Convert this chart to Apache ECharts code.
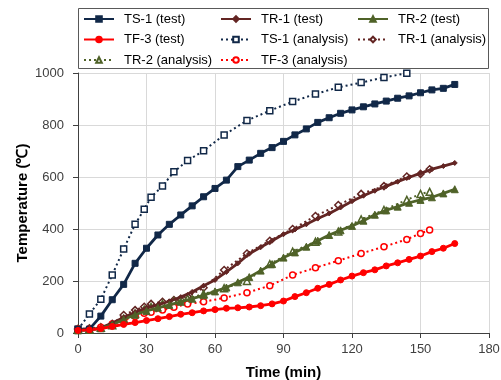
<!DOCTYPE html>
<html>
<head>
<meta charset="utf-8">
<script src="https://cdn.jsdelivr.net/npm/echarts@6/dist/echarts.min.js"></script>
<style>
  html, body { margin: 0; padding: 0; background: #fff; }
  #chart { width: 501px; height: 380px; }
</style>
</head>
<body>
<div id="chart"></div>
<script>
// test readings every 5 min
const testTime = [0,5,10,15,20,25,30,35,40,45,50,55,60,65,70,75,80,85,90,95,100,105,110,115,120,125,130,135,140,145,150,155,160,165]
const ts1Test = [15,15,65,128,187,268,326,377,418,454,489,524,556,588,640,665,691,713,737,762,785,810,828,845,858,870,881,892,903,912,924,935,941,956]
const tr1Test = [10,12,20,38,60,80,97,108,122,138,158,182,204,235,268,305,330,355,380,398,418,440,460,483,507,528,547,565,582,599,614,630,642,654]
const tr2Test = [10,12,18,32,52,70,85,97,108,120,132,145,160,175,195,215,240,265,290,310,332,355,377,395,412,432,455,472,486,501,512,522,537,553]
const tf3Test = [10,12,17,25,33,40,48,55,63,72,78,85,90,95,97,100,105,112,123,140,155,172,187,204,219,232,243,258,270,283,296,313,326,344]

// analysis output steps (irregular)
const anaTime = [0,5,10,15,20,25,29,32,37,42,48,55,64,74,84,94,104,114,124,134,144,150,154]
const ts1Ana = [14,73,130,223,323,418,476,522,565,620,663,701,762,817,855,890,919,945,963,983,999]
const tr1Ana = [15,18,22,35,69,88,101,112,120,127,140,174,242,306,355,400,450,492,535,565,602,612,630]
const tr2Ana = [15,15,20,30,55,75,90,100,112,122,132,150,172,200,265,313,351,390,437,473,512,535,543]
const tf3Ana = [15,15,22,35,50,63,76,80,88,99,112,120,135,155,182,223,251,278,306,332,360,383,396]

const xTicks = { min: 0, max: 180, interval: 30 }
const yTicks = { min: 0, max: 1000, interval: 200 }

const NAVY = '#112848'
const MAROON = '#632523'
const OLIVE = '#4f6228'
const RED = '#ff0000'
const FONT = 'Liberation Sans, Arial, sans-serif'

const pairs = (times, vals) => vals.map((v, i) => [times[i], v])

const testLine = (name, color, symbol, size, times, vals) => ({
  name,
  type: 'line',
  data: pairs(times, vals),
  symbol,
  symbolSize: size,
  z: 3,
  lineStyle: { color, width: 2.8 },
  itemStyle: { color, borderColor: color, borderWidth: 1 }
})

const anaLine = (name, color, symbol, size, times, vals) => ({
  name,
  type: 'line',
  data: pairs(times, vals),
  symbol,
  symbolSize: size,
  z: 2,
  lineStyle: { color, width: 2, type: [2, 3] },
  itemStyle: { color: '#fff', borderColor: color, borderWidth: 1.5 }
})

const legendCol = (left, names) => ({
  orient: 'vertical',
  left,
  top: 12,
  padding: 0,
  itemWidth: 30,
  itemHeight: 7,
  itemGap: 6.5,
  data: names,
  textStyle: { fontFamily: FONT, fontSize: 13, color: '#000', lineHeight: 14, padding: [0, 0, 0, 5] }
})

const chart = echarts.init(document.getElementById('chart'))

const option = {
  animation: false,
  backgroundColor: '#fff',
  grid: { left: 78, right: 12, top: 73, bottom: 47, containLabel: false, outerBoundsMode: 'none' },
  graphic: [{
    type: 'rect',
    z: 0,
    shape: { x: 78.5, y: 8.5, width: 410, height: 60 },
    style: { fill: '#fff', stroke: '#595959', lineWidth: 1 }
  }],
  legend: [
    legendCol(83, ['TS-1 (test)', 'TF-3 (test)', 'TR-2 (analysis)']),
    legendCol(220, ['TR-1 (test)', 'TS-1 (analysis)', 'TF-3 (analysis)']),
    legendCol(357, ['TR-2 (test)', 'TR-1 (analysis)'])
  ],
  xAxis: {
    type: 'value',
    min: xTicks.min,
    max: xTicks.max,
    interval: xTicks.interval,
    name: 'Time (min)',
    nameLocation: 'middle',
    nameGap: 32,
    nameMoveOverlap: false,
    nameTextStyle: { fontFamily: FONT, fontSize: 15, fontWeight: 'bold', color: '#000' },
    axisLine: { lineStyle: { color: '#404040', width: 1 } },
    axisTick: { show: true, length: 5, lineStyle: { color: '#404040' } },
    axisLabel: { fontFamily: FONT, fontSize: 13, color: '#404040', margin: 10 },
    splitLine: { show: true, lineStyle: { color: '#d9d9d9', width: 1 } }
  },
  yAxis: {
    type: 'value',
    min: yTicks.min,
    max: yTicks.max,
    interval: yTicks.interval,
    name: 'Temperature (℃)',
    nameLocation: 'middle',
    nameGap: 48,
    nameMoveOverlap: false,
    nameTextStyle: { fontFamily: FONT, fontSize: 15, fontWeight: 'bold', color: '#000' },
    axisLine: { show: true, lineStyle: { color: '#404040', width: 1 } },
    axisTick: { show: true, length: 5, lineStyle: { color: '#404040' } },
    axisLabel: { fontFamily: FONT, fontSize: 13, color: '#404040', margin: 14, formatter: v => String(v) },
    splitLine: { show: true, lineStyle: { color: '#d9d9d9', width: 1 } }
  },
  series: [
    anaLine('TS-1 (analysis)', NAVY, 'rect', 6, anaTime, ts1Ana),
    anaLine('TR-1 (analysis)', MAROON, 'diamond', 7, anaTime, tr1Ana),
    anaLine('TR-2 (analysis)', OLIVE, 'triangle', 7, anaTime, tr2Ana),
    anaLine('TF-3 (analysis)', RED, 'circle', 6, anaTime, tf3Ana),
    testLine('TS-1 (test)', NAVY, 'rect', 6, testTime, ts1Test),
    testLine('TR-1 (test)', MAROON, 'diamond', 5, testTime, tr1Test),
    testLine('TR-2 (test)', OLIVE, 'triangle', 7, testTime, tr2Test),
    testLine('TF-3 (test)', RED, 'circle', 6, testTime, tf3Test)
  ]
}

chart.setOption(option)
window.addEventListener('resize', () => chart.resize())
</script>
</body>
</html>
